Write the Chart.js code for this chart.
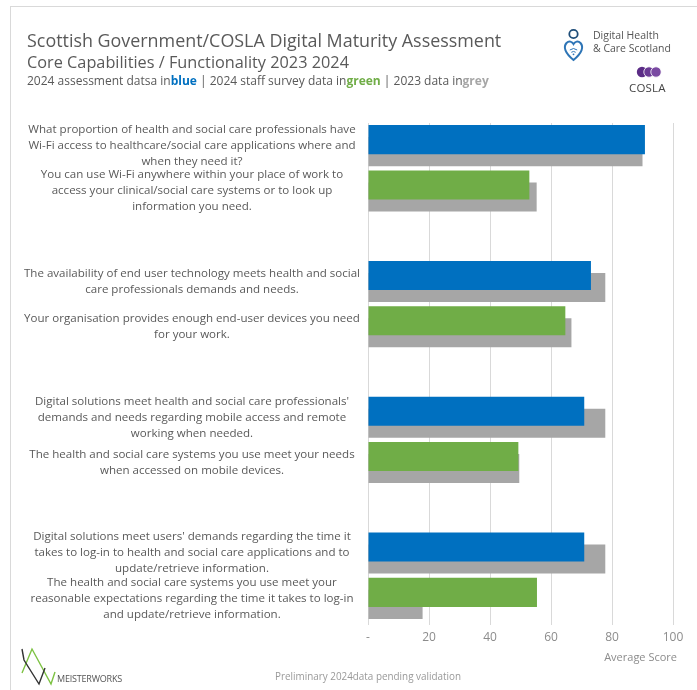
<!DOCTYPE html>
<html>
<head>
<meta charset="utf-8">
<script src="https://cdn.jsdelivr.net/npm/chart.js@4/dist/chart.umd.min.js"></script>
<style>
  html, body { margin: 0; padding: 0; background: #fff; }
  body { width: 697px; height: 690px; position: relative; overflow: hidden; font-family: "Open Sans", sans-serif; }
  #frame { position: absolute; left: 10px; top: 6px; width: 700px; height: 700px; border-left: 1px solid #d9d9d9; border-top: 1px solid #d9d9d9; }
  canvas { position: absolute; left: 0; top: 0; }
  .t { position: absolute; white-space: nowrap; color: #595959; }
  #title1 { left: 27px; top: 28px; font-size: 17.9px; }
  #title2 { left: 27px; top: 51px; font-size: 16.3px; }
  #subtitle { left: 27px; top: 72px; font-size: 12px; }
  #subtitle b { font-weight: 700; }
  #dhcs { left: 593px; top: 29px; font-size: 10.5px; line-height: 13px; color: #555; }
  #cosla { left: 629px; top: 80px; font-size: 11.5px; color: #444; letter-spacing: 0.2px; }
  #mw { left: 57px; top: 672px; font-size: 9px; color: #555; letter-spacing: -0.2px; }
  #note { left: 275px; top: 669px; font-size: 9.9px; color: #999; }
  #axisTitle { right: 20px; top: 649px; font-size: 11px; color: #8c8c8c; }
  svg { position: absolute; left: 0; top: 0; }
</style>
</head>
<body>
<div id="frame"></div>
<canvas id="chart" width="697" height="690"></canvas>

<div class="t" id="title1">Scottish Government/COSLA Digital Maturity Assessment</div>
<div class="t" id="title2">Core Capabilities / Functionality 2023 2024</div>
<div class="t" id="subtitle">2024 assessment datsa in<b style="color:#0070C0">blue</b> | 2024 staff survey data in<b style="color:#70AD47">green</b> | 2023 data in<b style="color:#A6A6A6">grey</b></div>
<div class="t" id="dhcs">Digital Health<br>&amp; Care Scotland</div>
<div class="t" id="cosla">COSLA</div>
<div class="t" id="mw">MEISTERWORKS</div>
<div class="t" id="note">Preliminary 2024data pending validation</div>
<div class="t" id="axisTitle">Average Score</div>

<svg width="697" height="690" viewBox="0 0 697 690">
  <!-- Digital Health & Care Scotland mark -->
  <circle cx="573.5" cy="34" r="4.2" fill="none" stroke="#1f4e79" stroke-width="1.8"/>
  <path d="M573.5 60 C 565 53, 563 47, 566.5 43 C 569 40.5, 572 41.5, 573.5 44 C 575 41.5, 578 40.5, 580.5 43 C 584 47, 582 53, 573.5 60 Z"
        fill="none" stroke="#2e75b6" stroke-width="2"/>
  <path d="M569.8 50 Q573.5 47 577.2 50 M571.3 52.3 Q573.5 50.6 575.7 52.3" fill="none" stroke="#2e75b6" stroke-width="1"/>
  <circle cx="573.5" cy="54.3" r="0.9" fill="#2e75b6"/>
  <!-- COSLA mark -->
  <circle cx="642" cy="72" r="5.2" fill="#5b2c86"/>
  <circle cx="649" cy="72" r="5.2" fill="#6a3a94" stroke="#fff" stroke-width="0.8"/>
  <circle cx="656" cy="72" r="5.2" fill="#7a4aa2" stroke="#fff" stroke-width="0.8"/>
  <!-- Meisterworks mark -->
  <polyline points="22,673 32,649 51,684 55,672" fill="none" stroke="#7dc243" stroke-width="1.4"/>
  <polyline points="22,649 24,660 39,684 45,668" fill="none" stroke="#333" stroke-width="1.4"/>
</svg>

<script>
// Questions, one per row; empty rows separate the four capability groups.
const questions = [
  ["What proportion of health and social care professionals have", "Wi-Fi access to healthcare/social care applications where and", "when they need it?"],
  ["You can use Wi-Fi anywhere within your place of work to", "access your clinical/social care systems or to look up", "information you need."],
  "",
  ["The availability of end user technology meets health and social", "care professionals demands and needs."],
  ["Your organisation provides enough end-user devices you need", "for your work."],
  "",
  ["Digital solutions meet health and social care professionals'", "demands and needs regarding mobile access and remote", "working when needed."],
  ["The health and social care systems you use meet your needs", "when accessed on mobile devices."],
  "",
  ["Digital solutions meet users' demands regarding the time it", "takes to log-in to health and social care applications and to", "update/retrieve information."],
  ["The health and social care systems you use meet your", "reasonable expectations regarding the time it takes to log-in", "and update/retrieve information."]
];

// Where each 2024 score comes from: assessment or staff survey.
const source2024 = ["assessment", "survey", null, "assessment", "survey", null, "assessment", "survey", null, "assessment", "survey"];

// Average scores.
const score2024 = [90.8, 52.9, null, 73.1, 64.7, null, 70.9, 49.3, null, 70.9, 55.4];
const score2023 = [90.0, 55.3, null, 77.8, 66.7, null, 77.8, 49.6, null, 77.8, 17.9];

// X-axis ticks.
const xTicks = [0, 20, 40, 60, 80, 100];

const sourceColours = { assessment: "#0070C0", survey: "#70AD47" };
const font = "'Open Sans', sans-serif";

new Chart(document.getElementById("chart"), {
  type: "bar",
  data: {
    labels: questions,
    datasets: [
      {
        label: "2024",
        data: score2024,
        backgroundColor: source2024.map(s => sourceColours[s] || "#fff"),
        categoryPercentage: 0.53,
        barPercentage: 2.42
      },
      {
        label: "2023",
        data: score2023,
        backgroundColor: "#A6A6A6",
        categoryPercentage: 0.53,
        barPercentage: 2.42
      }
    ]
  },
  options: {
    indexAxis: "y",
    responsive: false,
    animation: false,
    layout: { padding: { left: 20, right: 24, top: 123, bottom: 0 } },
    plugins: { legend: { display: false }, tooltip: { enabled: false } },
    scales: {
      x: {
        min: 0,
        max: 100,
        afterBuildTicks: s => { s.ticks = xTicks.map(v => ({ value: v })); },
        ticks: {
          callback: v => (v === 0 ? "-" : v),
          color: "#8c8c8c",
          font: { family: font, size: 12 },
          padding: 5
        },
        grid: { color: "#d9d9d9", tickLength: 4 },
        border: { display: false },
        afterFit: s => { s.height = 69; }
      },
      y: {
        grid: { display: false, drawTicks: false },
        border: { display: false },
        ticks: {
          autoSkip: false,
          crossAlign: "center",
          padding: 8,
          color: "#595959",
          font: { family: font, size: 11.55, lineHeight: 1.39 }
        },
        afterFit: s => { s.width = 348; }
      }
    }
  }
});
</script>
</body>
</html>
